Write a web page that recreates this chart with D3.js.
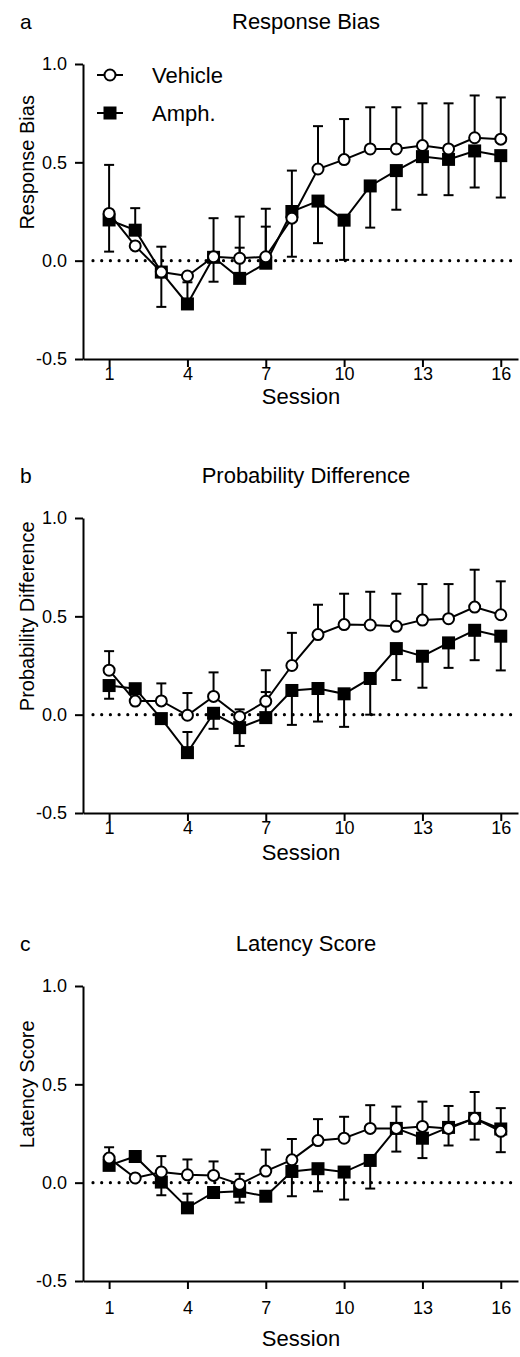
<!DOCTYPE html>
<html>
<head>
<meta charset="utf-8">
<script src="https://cdn.jsdelivr.net/npm/d3@7"></script>
<style>
  body { margin: 0; background: #fff; }
  text { font-family: "Liberation Sans", Arial, Helvetica, sans-serif; fill: #000; }
</style>
</head>
<body>
<svg id="chart" width="520" height="1357"></svg>
<script>
// sessions and axis ticks
var sessions = [1, 2, 3, 4, 5, 6, 7, 8, 9, 10, 11, 12, 13, 14, 15, 16];
var xTicks = [1, 4, 7, 10, 13, 16];
var yTicks = [-0.5, 0, 0.5, 1.0];
var groups = ["Vehicle", "Amph."];

// a - response bias (mean and the end of its one-sided SEM bar, null = no bar)
var biasVehicle    = [0.24, 0.075, -0.058, -0.078, 0.02, 0.012, 0.02, 0.216, 0.466, 0.514, 0.568, 0.568, 0.585, 0.568, 0.625, 0.618];
var biasVehicleBar = [0.487, null, 0.071, null, 0.216, 0.224, 0.264, 0.458, 0.684, 0.72, 0.78, 0.78, 0.80, 0.80, 0.84, 0.83];
var biasAmph       = [0.207, 0.155, -0.058, -0.22, 0.017, -0.09, -0.013, 0.25, 0.303, 0.206, 0.38, 0.458, 0.529, 0.515, 0.558, 0.534];
var biasAmphBar    = [0.046, 0.267, -0.235, -0.11, -0.107, 0.066, 0.173, 0.02, 0.089, 0.004, 0.168, 0.259, 0.335, 0.333, 0.372, 0.321];

// b - probability difference
var probVehicle    = [0.226, 0.069, 0.07, -0.003, 0.093, -0.01, 0.068, 0.25, 0.407, 0.458, 0.456, 0.449, 0.481, 0.488, 0.547, 0.508];
var probVehicleBar = [0.323, null, 0.159, 0.11, 0.215, 0.027, 0.226, 0.416, 0.559, 0.615, 0.625, 0.615, 0.664, 0.664, 0.737, 0.678];
var probAmph       = [0.148, 0.132, -0.02, -0.193, 0.007, -0.066, -0.015, 0.123, 0.133, 0.106, 0.184, 0.336, 0.297, 0.365, 0.429, 0.399];
var probAmphBar    = [0.081, null, null, -0.088, -0.072, -0.159, 0.115, -0.052, -0.035, -0.062, 0.0, 0.176, 0.137, 0.238, 0.277, 0.225];

// c - latency score
var latVehicle    = [0.125, 0.024, 0.054, 0.04, 0.037, -0.008, 0.059, 0.116, 0.214, 0.226, 0.276, 0.276, 0.286, 0.276, 0.327, 0.261];
var latVehicleBar = [0.18, null, 0.135, 0.118, 0.108, 0.045, 0.168, 0.222, 0.323, 0.335, 0.394, 0.387, 0.412, 0.39, 0.461, 0.379];
var latAmph       = [0.088, 0.133, 0.003, -0.128, -0.05, -0.044, -0.069, 0.057, 0.071, 0.054, 0.113, 0.276, 0.226, 0.281, 0.327, 0.273];
var latAmphBar    = [null, null, -0.064, -0.056, null, -0.101, null, -0.069, -0.044, -0.086, -0.03, 0.158, 0.125, 0.189, 0.219, 0.155];

var panels = [
  {letter: "a", title: "Response Bias", yLabel: "Response Bias", top: 64, tickShift: 0, labelShift: 0,
   veh: biasVehicle, vehBar: biasVehicleBar, amph: biasAmph, amphBar: biasAmphBar, legend: true},
  {letter: "b", title: "Probability Difference", yLabel: "Probability Difference", top: 518, tickShift: 0, labelShift: 2,
   veh: probVehicle, vehBar: probVehicleBar, amph: probAmph, amphBar: probAmphBar, legend: false},
  {letter: "c", title: "Latency Score", yLabel: "Latency Score", top: 986, tickShift: 12, labelShift: 20,
   veh: latVehicle, vehBar: latVehicleBar, amph: latAmph, amphBar: latAmphBar, legend: false}
];

var svg = d3.select("#chart");
var axisX = 83;
var x = d3.scaleLinear().domain([0, 16.66]).range([axisX, 518]);
var plotH = 295;

function drawPanel(p) {
  var y = d3.scaleLinear().domain([-0.5, 1]).range([p.top + plotH, p.top]);
  var g = svg.append("g");

  g.append("text")
      .attr("x", 20)
      .attr("y", p.top - 35)
      .style("font-size", "21px")
      .text(p.letter);

  g.append("text")
      .attr("x", 306)
      .attr("y", p.top - 35)
      .attr("text-anchor", "middle")
      .style("font-size", "22px")
      .text(p.title);

  // y axis
  var ya = g.append("g")
      .attr("transform", "translate(" + axisX + ",0)")
      .call(d3.axisLeft(y).tickValues(yTicks).tickFormat(function(d) { return d.toFixed(1); })
        .tickSize(8).tickSizeOuter(0).tickPadding(8));
  ya.selectAll("text").style("font-size", "18px");

  // x axis
  var xa = g.append("g")
      .attr("transform", "translate(0," + y(-0.5) + ")")
      .call(d3.axisBottom(x).tickValues(xTicks).tickSize(8).tickSizeOuter(0).tickPadding(p.tickShift));
  xa.selectAll("text").style("font-size", "18px");

  g.selectAll(".domain, .tick line").attr("stroke", "#000").attr("stroke-width", 2);

  g.append("text")
      .attr("transform", "translate(27," + y(0.5) + ") rotate(-90)")
      .attr("text-anchor", "middle")
      .attr("dy", "0.35em")
      .style("font-size", "20px")
      .text(p.yLabel);

  g.append("text")
      .attr("x", 301)
      .attr("y", y(-0.5) + 45 + p.labelShift)
      .attr("text-anchor", "middle")
      .style("font-size", "22px")
      .text("Session");

  // dotted zero line
  g.append("line")
      .attr("x1", axisX + 10)
      .attr("x2", 518)
      .attr("y1", y(0))
      .attr("y2", y(0))
      .attr("stroke", "#000")
      .attr("stroke-width", 3.2)
      .attr("stroke-linecap", "round")
      .attr("stroke-dasharray", "0,8.7");

  // error bars
  function bars(mean, end) {
    sessions.forEach(function(s, i) {
      if (end[i] === null) return;
      g.append("line")
          .attr("x1", x(s)).attr("x2", x(s))
          .attr("y1", y(mean[i])).attr("y2", y(end[i]))
          .attr("stroke", "#000").attr("stroke-width", 2);
      g.append("line")
          .attr("x1", x(s) - 5).attr("x2", x(s) + 5)
          .attr("y1", y(end[i])).attr("y2", y(end[i]))
          .attr("stroke", "#000").attr("stroke-width", 2);
    });
  }
  bars(p.amph, p.amphBar);
  bars(p.veh, p.vehBar);

  var line = d3.line()
      .x(function(d, i) { return x(sessions[i]); })
      .y(function(d) { return y(d); });

  g.append("path")
      .attr("d", line(p.amph))
      .attr("fill", "none")
      .attr("stroke", "#000")
      .attr("stroke-width", 2);

  g.selectAll(".sq")
      .data(p.amph)
      .enter().append("rect")
      .attr("x", function(d, i) { return x(sessions[i]) - 6.5; })
      .attr("y", function(d) { return y(d) - 6.5; })
      .attr("width", 13)
      .attr("height", 13)
      .attr("fill", "#000");

  g.append("path")
      .attr("d", line(p.veh))
      .attr("fill", "none")
      .attr("stroke", "#000")
      .attr("stroke-width", 2);

  g.selectAll(".ci")
      .data(p.veh)
      .enter().append("circle")
      .attr("cx", function(d, i) { return x(sessions[i]); })
      .attr("cy", function(d) { return y(d); })
      .attr("r", 5.5)
      .attr("fill", "#fff")
      .attr("stroke", "#000")
      .attr("stroke-width", 2);

  if (p.legend) {
    var rows = [p.top + 11, p.top + 49];
    groups.forEach(function(name, k) {
      var ly = rows[k];
      g.append("line")
          .attr("x1", 97).attr("x2", 123)
          .attr("y1", ly).attr("y2", ly)
          .attr("stroke", "#000").attr("stroke-width", 2);
      if (k === 0) {
        g.append("circle")
            .attr("cx", 110).attr("cy", ly).attr("r", 5.5)
            .attr("fill", "#fff").attr("stroke", "#000").attr("stroke-width", 2);
      } else {
        g.append("rect")
            .attr("x", 103.5).attr("y", ly - 6.5)
            .attr("width", 13).attr("height", 13)
            .attr("fill", "#000");
      }
      g.append("text")
          .attr("x", 152)
          .attr("y", ly)
          .attr("dy", "0.35em")
          .style("font-size", "22px")
          .text(name);
    });
  }
}

panels.forEach(drawPanel);
</script>
</body>
</html>
